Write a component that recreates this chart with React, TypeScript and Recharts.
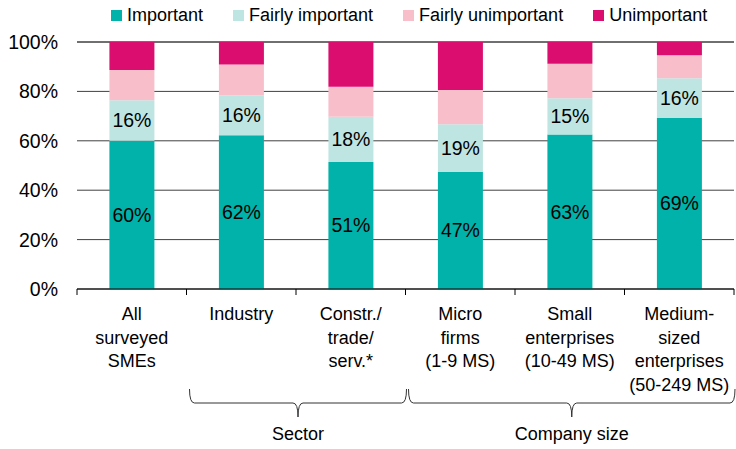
import React from 'react';
import { BarChart, Bar, XAxis, YAxis, CartesianGrid, LabelList } from 'recharts';

const categories = [
  'All\nsurveyed\nSMEs',
  'Industry',
  'Constr./\ntrade/\nserv.*',
  'Micro\nfirms\n(1-9 MS)',
  'Small\nenterprises\n(10-49 MS)',
  'Medium-\nsized\nenterprises\n(50-249 MS)',
];
const important = [60.0, 62.2, 51.4, 47.4, 62.6, 69.2];
const fairlyImportant = [16.4, 16.1, 18.3, 19.3, 14.6, 16.1];
const fairlyUnimportant = [12.3, 12.6, 12.2, 13.9, 14.0, 9.3];
const unimportant = [11.3, 9.1, 18.1, 19.4, 8.8, 5.4];
const yTicks = [0, 20, 40, 60, 80, 100];

const groups = [
  { label: 'Sector', first: 1, last: 2 },
  { label: 'Company size', first: 3, last: 5 },
];

const series = [
  { key: 'important', name: 'Important', color: '#00B2A9', labelled: true },
  { key: 'fairlyImportant', name: 'Fairly important', color: '#BFE5E2', labelled: true },
  { key: 'fairlyUnimportant', name: 'Fairly unimportant', color: '#F8BFCB', labelled: false },
  { key: 'unimportant', name: 'Unimportant', color: '#DB0D6F', labelled: false },
];

const data = categories.map((name, i) => ({
  name,
  important: important[i],
  fairlyImportant: fairlyImportant[i],
  fairlyUnimportant: fairlyUnimportant[i],
  unimportant: unimportant[i],
}));

const formatPct = (v: any) => `${Math.round(Number(v))}%`;

function CategoryTick(props: any) {
  const { x, y, payload, index } = props;
  const half = payload?.offset ?? 0;
  const lines = String(payload.value).split('\n');
  const group = groups.find((g) => g.first === index);
  let brace = null;
  if (group) {
    const left = x - half + 3;
    const right = x - half + (group.last - group.first + 1) * 2 * half + 1;
    const cx = (left + right) / 2;
    const yTop = y + 100;
    const yMid = y + 114;
    const yPt = y + 128;
    const d = `M${left},${yTop} Q${left},${yMid} ${left + 5},${yMid} L${cx - 5},${yMid} Q${cx},${yMid} ${cx},${yPt} Q${cx},${yMid} ${cx + 5},${yMid} L${right - 5},${yMid} Q${right},${yMid} ${right},${yTop}`;
    brace = (
      <g>
        <path d={d} fill="none" stroke="#333" strokeWidth={1} />
        <text x={cx} y={y + 151} textAnchor="middle" fontSize={18} fill="#000">
          {group.label}
        </text>
      </g>
    );
  }
  return (
    <g>
      <line x1={x - half} x2={x - half} y1={y} y2={y + 6} stroke="#000" />
      {index === categories.length - 1 && (
        <line x1={x + half} x2={x + half} y1={y} y2={y + 6} stroke="#000" />
      )}
      <text x={x} y={y + 31} textAnchor="middle" fontSize={18} fill="#000">
        {lines.map((l, i) => (
          <tspan key={i} x={x} dy={i === 0 ? 0 : 23.7}>
            {l}
          </tspan>
        ))}
      </text>
      {brace}
    </g>
  );
}

export default function App() {
  return (
    <div
      style={{
        position: 'absolute',
        left: 0,
        top: 0,
        width: 736,
        height: 449,
        background: '#fff',
        fontFamily: '"Liberation Sans", Arial, sans-serif',
      }}
    >
      <div
        style={{
          position: 'absolute',
          left: 111,
          top: 5,
          height: 21,
          display: 'flex',
          alignItems: 'center',
          fontSize: 18,
          color: '#000',
          whiteSpace: 'nowrap',
        }}
      >
        {series.map((s, i) => (
          <div key={s.key} style={{ display: 'flex', alignItems: 'center', marginLeft: i === 0 ? 0 : 30 }}>
            <span style={{ width: 11, height: 11, background: s.color, display: 'inline-block', marginRight: 5 }} />
            <span>{s.name}</span>
          </div>
        ))}
      </div>
      <BarChart
        width={736}
        height={449}
        data={data}
        margin={{ top: 42, right: 2, left: 0, bottom: 0 }}
        barCategoryGap="29.6%"
      >
        <CartesianGrid vertical={false} stroke="#404040" />
        <XAxis
          dataKey="name"
          height={160}
          interval={0}
          axisLine={{ stroke: '#000' }}
          tickLine={false}
          tickSize={0}
          tickMargin={0}
          tick={<CategoryTick />}
        />
        <YAxis
          width={77}
          domain={[0, 100]}
          ticks={yTicks}
          axisLine={false}
          tickLine={false}
          tickSize={0}
          tickMargin={19}
          tickFormatter={(v) => `${v}%`}
          tick={{ fill: '#000', fontSize: 19.5 }}
        />
        {series.map((s) => (
          <Bar key={s.key} dataKey={s.key} stackId="a" fill={s.color} isAnimationActive={false}>
            {s.labelled && (
              <LabelList dataKey={s.key} position="center" fill="#000" fontSize={19.5} formatter={formatPct} />
            )}
          </Bar>
        ))}
      </BarChart>
    </div>
  );
}
